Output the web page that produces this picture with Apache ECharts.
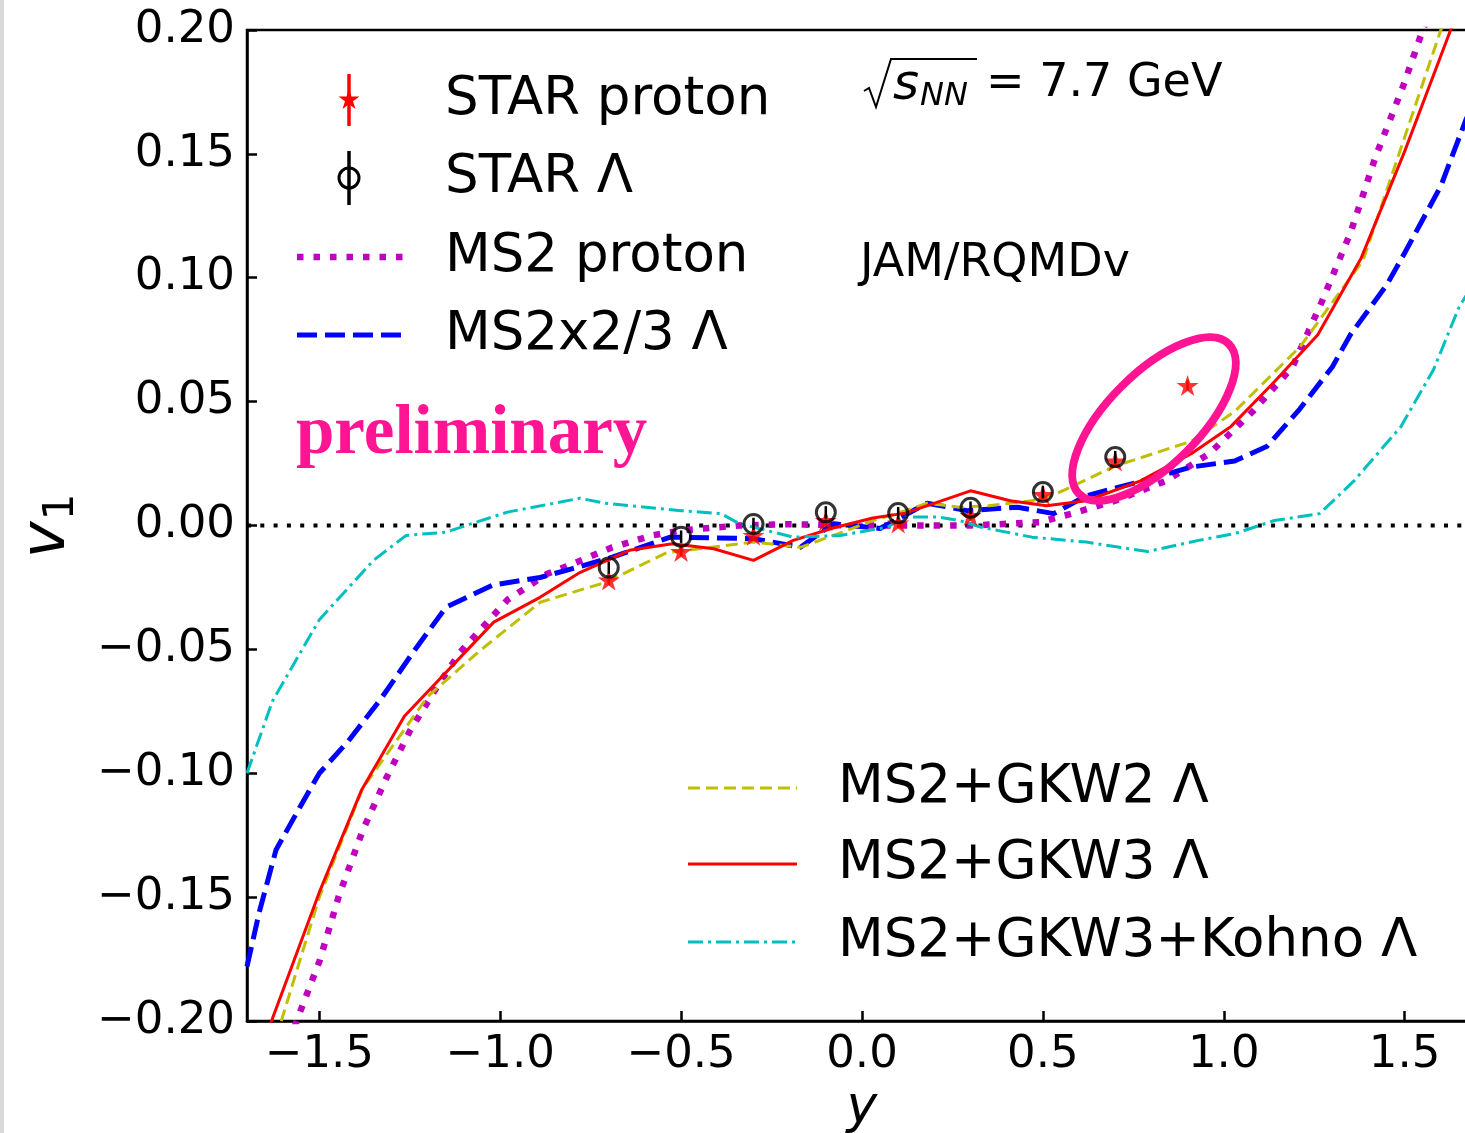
<!DOCTYPE html>
<html>
<head>
<meta charset="utf-8">
<title>v1 vs y, JAM/RQMDv 7.7 GeV</title>
<script src="https://cdn.jsdelivr.net/npm/echarts@6/dist/echarts.min.js"></script>
<style>
  html, body { margin: 0; padding: 0; background: #fff; }
  #main { width: 1465px; height: 1133px; }
</style>
</head>
<body>
<div id="main"></div>
<script>
// axis ticks
var xTicks = [-1.5, -1.0, -0.5, 0.0, 0.5, 1.0, 1.5];
var yTicks = [-0.20, -0.15, -0.10, -0.05, 0.00, 0.05, 0.10, 0.15, 0.20];

// STAR proton (red stars)
var protonY = [-0.7, -0.5, -0.3, -0.1, 0.1, 0.3, 0.5, 0.7, 0.9];
var protonV1 = [-0.022, -0.0105, -0.004, 0.002, 0.001, 0.004, 0.0125, 0.026, 0.0565];
var protonErr = [0.002, 0.002, 0.002, 0.002, 0.002, 0.002, 0.002, 0.002, 0.002];

// STAR Lambda (open circles)
var lambdaY = [-0.7, -0.5, -0.3, -0.1, 0.1, 0.3, 0.5, 0.7];
var lambdaV1 = [-0.017, -0.0045, 0.0006, 0.0053, 0.005, 0.0072, 0.0135, 0.0276];
var lambdaErr = [0.0025, 0.0025, 0.0025, 0.0025, 0.0025, 0.0025, 0.0025, 0.0025];

// MS2 proton (magenta dotted)
var ms2pX = [-1.6, -1.555, -1.5, -1.445, -1.38, -1.315, -1.25, -1.17, -1.11, -0.98, -0.87, -0.80, -0.69, -0.58, -0.5, -0.34, -0.2, 0.0, 0.2, 0.3, 0.49, 0.58, 0.70, 0.84, 0.96, 1.08, 1.19, 1.27, 1.35, 1.42, 1.495, 1.55, 1.6];
var ms2pV1 = [-0.215, -0.197, -0.176, -0.149, -0.123, -0.102, -0.083, -0.064, -0.051, -0.030, -0.0195, -0.0155, -0.0088, -0.004, -0.002, 0.0, 0.0005, 0.0, 0.0, 0.0, 0.0013, 0.0048, 0.010, 0.018, 0.029, 0.046, 0.064, 0.090, 0.118, 0.149, 0.177, 0.200, 0.218];

// MS2x2/3 Lambda (blue dashed)
var ms2lX = [-1.70, -1.666, -1.62, -1.555, -1.5, -1.42, -1.33, -1.24, -1.15, -1.02, -0.89, -0.80, -0.69, -0.53, -0.30, -0.17, -0.08, 0.05, 0.18, 0.29, 0.43, 0.53, 0.62, 0.75, 0.91, 1.03, 1.12, 1.21, 1.30, 1.35, 1.45, 1.5, 1.6, 1.67, 1.72];
var ms2lV1 = [-0.178, -0.156, -0.131, -0.114, -0.100, -0.087, -0.070, -0.051, -0.033, -0.024, -0.021, -0.0174, -0.0128, -0.0047, -0.0053, -0.0088, 0.0007, -0.0012, 0.009, 0.006, 0.0074, 0.0048, 0.012, 0.017, 0.0236, 0.026, 0.032, 0.047, 0.064, 0.077, 0.097, 0.110, 0.137, 0.164, 0.18];

// MS2+GKW2 Lambda (olive dashed)
var gkw2X = [-1.62, -1.5, -1.38, -1.2, -1.06, -0.89, -0.71, -0.54, -0.30, -0.17, -0.06, 0.03, 0.12, 0.18, 0.27, 0.35, 0.47, 0.54, 0.70, 0.91, 1.03, 1.21, 1.385, 1.6, 1.65];
var gkw2V1 = [-0.207, -0.150, -0.106, -0.069, -0.051, -0.031, -0.023, -0.011, -0.0067, -0.0088, -0.003, 0.002, 0.006, 0.009, 0.0074, 0.008, 0.010, 0.013, 0.024, 0.034, 0.046, 0.072, 0.107, 0.200, 0.215];

// MS2+GKW3 Lambda (red solid)
var gkw3X = [-1.65, -1.5, -1.384, -1.265, -1.018, -0.89, -0.78, -0.643, -0.524, -0.41, -0.30, -0.19, -0.08, 0.03, 0.12, 0.30, 0.41, 0.51, 0.62, 0.77, 0.91, 1.02, 1.14, 1.26, 1.38, 1.5, 1.64];
var gkw3V1 = [-0.207, -0.148, -0.107, -0.077, -0.039, -0.029, -0.019, -0.010, -0.0074, -0.0094, -0.0141, -0.006, -0.001, 0.003, 0.005, 0.014, 0.010, 0.008, 0.010, 0.018, 0.029, 0.040, 0.058, 0.077, 0.108, 0.151, 0.205];

// MS2+GKW3+Kohno Lambda (cyan dash-dot)
var kohnoX = [-1.70, -1.63, -1.5, -1.35, -1.26, -1.15, -1.08, -0.98, -0.78, -0.71, -0.5, -0.39, -0.34, -0.19, -0.06, 0.07, 0.12, 0.21, 0.27, 0.33, 0.47, 0.62, 0.79, 0.93, 1.03, 1.14, 1.265, 1.36, 1.49, 1.58, 1.65, 1.72];
var kohnoV1 = [-0.100, -0.071, -0.038, -0.014, -0.004, -0.0027, 0.0007, 0.0054, 0.011, 0.009, 0.006, 0.0048, 0.0008, -0.0047, -0.004, -0.0007, 0.0034, 0.0034, 0.002, -0.0007, -0.0047, -0.0067, -0.0105, -0.006, -0.0033, 0.002, 0.0048, 0.018, 0.040, 0.063, 0.088, 0.105];

// dotted zero line
var zeroX = [-1.7, 1.7];
var zeroV1 = [0, 0];

var FONT = 'DejaVu Sans';

function zip(xs, ys) {
  return xs.map(function (x, i) { return [x, ys[i]]; });
}

// 5-point star like matplotlib '*'
function starPoints(cx, cy, r) {
  var pts = [];
  for (var i = 0; i < 10; i++) {
    var a = -Math.PI / 2 + i * Math.PI / 5;
    var rr = (i % 2 === 0) ? r : r * 0.382;
    pts.push([cx + rr * Math.cos(a), cy + rr * Math.sin(a)]);
  }
  return pts;
}
var starPath = 'path://M' + starPoints(0, 0, 1).map(function (p) {
  return p[0].toFixed(4) + ',' + p[1].toFixed(4);
}).join(' L') + ' Z';

function fmt(digits) {
  return function (v) {
    var s = Math.abs(v).toFixed(digits);
    return v < -1e-9 ? '\u2212' + s : s;
  };
}

function lineSeries(name, xs, ys, color, width, dash, z) {
  return {
    name: name,
    type: 'line',
    data: zip(xs, ys),
    symbol: 'none',
    silent: true,
    z: z,
    lineStyle: { color: color, width: width, type: dash, cap: 'butt', join: 'round' }
  };
}

function errorSeries(xs, ys, errs, color, z) {
  return {
    type: 'custom',
    silent: true,
    z: z,
    data: xs.map(function (x, i) { return [x, ys[i] - errs[i], ys[i] + errs[i]]; }),
    encode: { x: 0, y: [1, 2] },
    renderItem: function (params, api) {
      var lo = api.coord([api.value(0), api.value(1)]);
      var hi = api.coord([api.value(0), api.value(2)]);
      return {
        type: 'line',
        shape: { x1: lo[0], y1: lo[1], x2: hi[0], y2: hi[1] },
        style: { stroke: color, lineWidth: 2.5 }
      };
    }
  };
}

function txt(x, y, s, size, extra) {
  var st = { text: s, x: 0, y: 0, fontSize: size, fontFamily: FONT, fill: '#000', align: 'left', verticalAlign: 'middle' };
  for (var k in extra) st[k] = extra[k];
  return { type: 'text', x: x, y: y, z: 100, style: st };
}

function hline(x1, x2, y, color, width, dash) {
  return {
    type: 'line', z: 100,
    shape: { x1: x1, y1: y, x2: x2, y2: y },
    style: { stroke: color, lineWidth: width, lineDash: dash, lineCap: 'butt' }
  };
}

function vline(x, y1, y2, color, width) {
  return {
    type: 'line', z: 100,
    shape: { x1: x, y1: y1, x2: x, y2: y2 },
    style: { stroke: color, lineWidth: width }
  };
}

var graphics = [
  // light frame at the left edge of the screenshot
  { type: 'rect', z: 100, shape: { x: 0, y: 0, width: 4, height: 1133 }, style: { fill: '#d9d9d9' } },

  // upper legend
  vline(349, 74, 126, '#ff0000', 3.5),
  { type: 'polygon', z: 101, shape: { points: starPoints(349, 100, 11) }, style: { fill: '#ff0000' } },
  txt(445, 100, 'STAR proton', 53),
  vline(349, 151, 205, '#000', 3.5),
  { type: 'circle', z: 101, shape: { cx: 349, cy: 178, r: 10 }, style: { fill: 'none', stroke: '#000', lineWidth: 3 } },
  txt(445, 178, 'STAR \u039B', 53),
  hline(297, 403, 257, '#bf00bf', 6.5, [6.5, 10]),
  txt(445, 257, 'MS2 proton', 53),
  hline(297, 403, 335, '#0000ff', 5, [20, 8]),
  txt(445, 335, 'MS2x2/3 \u039B', 53),

  // lower legend
  hline(688, 797, 788, '#bfbf00', 3, [12, 6]),
  txt(838, 788, 'MS2+GKW2 \u039B', 53),
  hline(688, 797, 864, '#ff0000', 3, null),
  txt(838, 864, 'MS2+GKW3 \u039B', 53),
  hline(688, 797, 942, '#00bfbf', 3, [15, 5, 3, 5]),
  txt(838, 942, 'MS2+GKW3+Kohno \u039B', 53),

  // sqrt(s_NN) = 7.7 GeV
  { type: 'polyline', z: 100, shape: { points: [[864, 91], [869, 88], [876, 107], [891, 59], [977, 59]] },
    style: { stroke: '#000', lineWidth: 2, fill: 'none' } },
  txt(893, 86, 's', 50, { fontStyle: 'italic' }),
  txt(920, 97, 'NN', 32, { fontStyle: 'italic' }),
  txt(986, 84, '= 7.7 GeV', 46),
  txt(860, 264, 'JAM/RQMDv', 46),

  // preliminary stamp
  txt(296, 435, 'preliminary', 69, { fontFamily: 'Liberation Serif', fontWeight: 'bold', fill: '#ff1493' }),
  { type: 'ellipse', z: 102, x: 1154, y: 419, rotation: Math.PI / 4,
    shape: { cx: 0, cy: 0, rx: 106, ry: 46 },
    style: { fill: 'none', stroke: '#ff1493', lineWidth: 8 } },

  // y axis title v_1 (rotated)
  { type: 'group', x: 52, y: 540, rotation: Math.PI / 2, z: 100, children: [
    { type: 'text', x: 0, y: -4, style: { text: 'v', fontSize: 62, fontStyle: 'italic', fontFamily: FONT, fill: '#000', align: 'center', verticalAlign: 'middle' } },
    { type: 'text', x: 33, y: 10, style: { text: '1', fontSize: 42, fontFamily: FONT, fill: '#000', align: 'center', verticalAlign: 'middle' } }
  ] }
];

var chart = echarts.init(document.getElementById('main'));

var option = {
  animation: false,
  backgroundColor: '#fff',
  grid: {
    left: 247, right: -12, top: 30, bottom: 112,
    show: true, borderColor: '#000', borderWidth: 2.5,
    containLabel: false, outerBoundsMode: 'none'
  },
  xAxis: {
    type: 'value', min: -1.7, max: 1.7,
    name: 'y', nameLocation: 'middle', nameGap: 56,
    nameTextStyle: { fontSize: 52, fontStyle: 'italic', fontFamily: FONT, color: '#000' },
    axisLine: { show: true, onZero: false, lineStyle: { color: '#000', width: 2.5 } },
    axisTick: { show: true, inside: true, length: 10, customValues: xTicks, lineStyle: { color: '#000', width: 2.5 } },
    axisLabel: { customValues: xTicks, formatter: fmt(1), color: '#000', fontSize: 45, fontFamily: FONT, margin: 12 },
    splitLine: { show: false }
  },
  yAxis: {
    type: 'value', min: -0.2, max: 0.2,
    axisLine: { show: true, onZero: false, lineStyle: { color: '#000', width: 2.5 } },
    axisTick: { show: true, inside: true, length: 10, customValues: yTicks, lineStyle: { color: '#000', width: 2.5 } },
    axisLabel: { customValues: yTicks, formatter: fmt(2), color: '#000', fontSize: 45, fontFamily: FONT, margin: 12 },
    splitLine: { show: false }
  },
  graphic: graphics,
  series: [
    lineSeries('zero', zeroX, zeroV1, '#000', 4, [4, 9.3], 1),
    lineSeries('MS2 proton', ms2pX, ms2pV1, '#bf00bf', 6.5, [6.5, 10], 2),
    lineSeries('MS2x2/3 \u039B', ms2lX, ms2lV1, '#0000ff', 5, [20, 8], 3),
    lineSeries('MS2+GKW2 \u039B', gkw2X, gkw2V1, '#bfbf00', 3, [12, 6], 4),
    lineSeries('MS2+GKW3 \u039B', gkw3X, gkw3V1, '#ff0000', 3, 'solid', 5),
    lineSeries('MS2+GKW3+Kohno \u039B', kohnoX, kohnoV1, '#00bfbf', 3, [15, 5, 3, 5], 6),
    errorSeries(protonY, protonV1, protonErr, '#ff0000', 7),
    {
      name: 'STAR proton', type: 'scatter', silent: true, z: 8,
      data: zip(protonY, protonV1),
      symbol: starPath, symbolSize: 22, symbolKeepAspect: true,
      itemStyle: { color: '#ff0000' }
    },
    errorSeries(lambdaY, lambdaV1, lambdaErr, '#000', 9),
    {
      name: 'STAR \u039B', type: 'scatter', silent: true, z: 10,
      data: zip(lambdaY, lambdaV1),
      symbol: 'circle', symbolSize: 19,
      itemStyle: { color: 'rgba(0,0,0,0)', borderColor: '#000', borderWidth: 3 }
    }
  ]
};

chart.setOption(option);
</script>
</body>
</html>
